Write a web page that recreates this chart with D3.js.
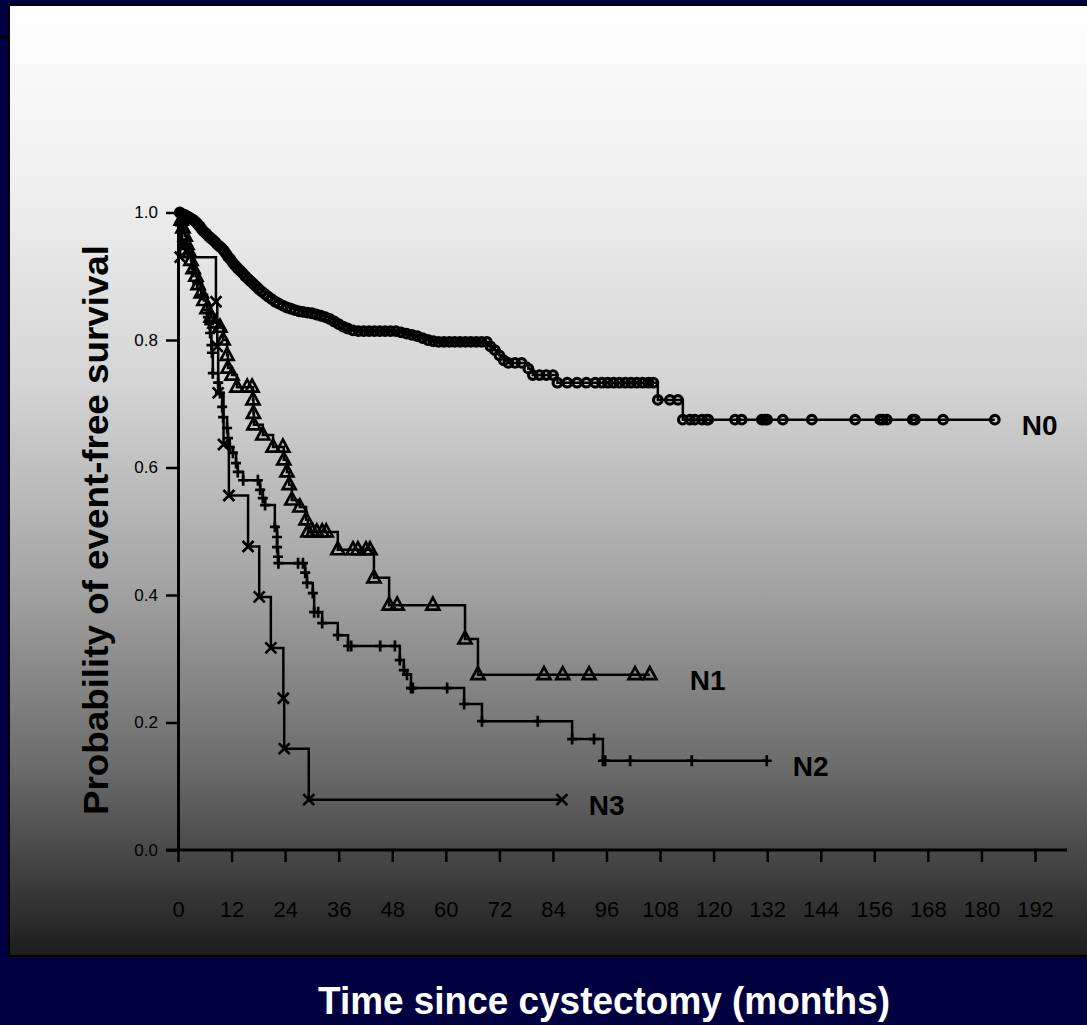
<!DOCTYPE html>
<html>
<head>
<meta charset="utf-8">
<script src="https://cdn.jsdelivr.net/npm/d3@7"></script>
<style>
  html, body { margin: 0; padding: 0; background: #000040; }
  svg { display: block; font-family: "Liberation Sans", Arial, sans-serif; }
</style>
</head>
<body>
<div id="graphic"></div>
<script>
// months, survival probability
const n0Points = [
  [0,1.0],[0.4,1.0],[0.8,0.998],[1.2,0.997],[1.6,0.996],[2.1,0.994],[2.6,0.992],[3.0,0.990],[3.5,0.988],
  [4.0,0.985],[4.4,0.982],[4.9,0.978],[5.3,0.974],[5.8,0.970],[6.3,0.967],[6.8,0.963],[7.3,0.960],
  [7.8,0.957],[8.3,0.954],[8.8,0.950],[9.3,0.947],[9.8,0.944],[10.3,0.940],[10.8,0.935],[11.3,0.930],
  [11.8,0.926],[12.3,0.921],[12.8,0.917],[13.3,0.913],[13.9,0.909],[14.5,0.905],[15.1,0.900],
  [15.7,0.896],[16.3,0.892],[16.9,0.888],[17.5,0.884],[18.1,0.880],[18.8,0.876],[19.5,0.872],
  [20.2,0.868],[21.0,0.864],[21.8,0.860],[22.6,0.857],[23.5,0.854],[24.4,0.851],[25.3,0.849],
  [26.2,0.847],[27.1,0.845],[28.0,0.844],[29.0,0.843],[30.0,0.842],[31.0,0.840],[32.0,0.838],
  [33.0,0.836],[34.0,0.833],[35.0,0.829],[36.0,0.825],[37.0,0.821],[38.0,0.818],[39.2,0.815],
  [40.4,0.814],[41.6,0.814],[42.8,0.814],[44.0,0.814],[45.2,0.814],[46.4,0.814],[47.6,0.814],
  [48.8,0.814],[50.0,0.812],[51.2,0.810],[52.4,0.808],[53.6,0.806],[54.8,0.803],[56.0,0.800],
  [57.2,0.798],[58.4,0.797],[59.6,0.797],[60.8,0.797],[62.0,0.797],[63.2,0.797],[64.4,0.797],
  [65.6,0.797],[66.8,0.797],[68.0,0.797],[69.2,0.797],[70.0,0.790],[71.0,0.784],[72.0,0.776],
  [73.0,0.768],[74.0,0.764],[75.5,0.764],[77.0,0.764],[78.5,0.755],[79.5,0.745],[81.0,0.745],
  [82.5,0.745],[84.0,0.745],[85.0,0.733],[87.2,0.733],[89.4,0.733],[91.5,0.733],[93.5,0.733],
  [95.0,0.733],[96.3,0.733],[97.6,0.733],[98.9,0.733],[100.2,0.733],[101.5,0.733],[102.8,0.733],
  [104.1,0.733],[105.4,0.733],[106.5,0.733],[107.5,0.706],[110.2,0.706],[112.0,0.706],
  [113.1,0.675],[114.7,0.675],[115.8,0.675],[117.4,0.675],[118.5,0.675],[118.8,0.675],
  [124.8,0.675],[126.3,0.675],[130.8,0.675],[131.5,0.675],[132.0,0.675],[135.5,0.675],
  [142.0,0.675],[151.7,0.675],[157.3,0.675],[157.9,0.675],[158.8,0.675],[164.6,0.675],
  [165.1,0.675],[171.4,0.675],[183.0,0.675]
]

const n1Points = [
  [0,1.0],[0.7,0.988],[1.1,0.976],[1.6,0.963],[2.0,0.950],[2.5,0.938],[2.9,0.925],[3.4,0.912],
  [4.0,0.900],[4.5,0.887],[5.2,0.874],[5.8,0.862],[6.5,0.849],[7.4,0.836],[8.3,0.827],[9.4,0.820],
  [10.1,0.800],[11.0,0.776],[11.2,0.756],[12.1,0.745],[13.2,0.726],[15.5,0.726],[16.6,0.726],
  [16.8,0.706],[16.9,0.685],[17.0,0.667],[19.0,0.651],[21.3,0.632],[23.5,0.632],[23.7,0.612],
  [24.4,0.593],[24.9,0.573],[25.5,0.549],[27.3,0.538],[28.7,0.518],[29.1,0.499],[30.2,0.499],
  [31.1,0.499],[32.3,0.499],[33.2,0.499],[35.8,0.471],[39.2,0.471],[40.3,0.471],[42.1,0.471],
  [43.0,0.471],[43.9,0.427],[47.3,0.384],[49.1,0.384],[57.1,0.384],[64.3,0.331],[67.2,0.275],
  [82.0,0.275],[86.2,0.275],[92.1,0.275],[102.4,0.275],[105.7,0.275]
]

const n2Points = [
  [0,1.0],[0.45,0.980],[0.9,0.957],[1.6,0.946],[2.2,0.936],[3.1,0.918],[3.4,0.907],[4.3,0.889],
  [5.4,0.871],[6.5,0.847],[6.7,0.836],[7.0,0.825],[7.2,0.811],[7.5,0.792],[7.6,0.780],[7.8,0.748],
  [9.0,0.733],[9.4,0.717],[9.9,0.695],[10.1,0.679],[11.0,0.662],[11.2,0.646],[11.6,0.632],
  [12.3,0.623],[13.0,0.607],[13.4,0.593],[14.6,0.580],[17.9,0.580],[18.4,0.565],[19.0,0.552],
  [19.5,0.541],[21.7,0.507],[22.2,0.491],[22.2,0.475],[22.4,0.460],[22.5,0.450],[26.9,0.450],
  [28.0,0.450],[28.5,0.435],[28.9,0.419],[30.2,0.403],[30.5,0.373],[31.4,0.373],[32.3,0.356],
  [35.8,0.337],[38.1,0.320],[38.8,0.320],[45.3,0.320],[48.6,0.320],[49.7,0.298],[50.6,0.282],
  [51.3,0.275],[52.2,0.254],[52.6,0.254],[60.3,0.254],[64.1,0.229],[68.1,0.202],[80.6,0.202],
  [88.3,0.174],[93.2,0.174],[95.2,0.140],[95.7,0.140],[101.3,0.140],[115.1,0.140],[131.9,0.140]
]

const n3Points = [
  [0,1.0],[0.5,0.93],[8.5,0.86],[8.8,0.79],[9.0,0.717],[10.2,0.636],[11.4,0.556],[15.7,0.476],
  [18.2,0.397],[20.8,0.317],[23.6,0.238],[23.8,0.159],[29.3,0.079],[86.0,0.079]
]

const groupNames = ["N0", "N1", "N2", "N3"]
const xTicks = [0, 12, 24, 36, 48, 60, 72, 84, 96, 108, 120, 132, 144, 156, 168, 180, 192]
const yTicks = [0.0, 0.2, 0.4, 0.6, 0.8, 1.0]
const xTitle = "Time since cystectomy (months)"
const yTitle = "Probability of event-free survival"

const W = 1087, H = 1025
const FONT = "'Liberation Sans', Arial, sans-serif"

let x = d3.scaleLinear()
    .domain([0, 192])
    .range([178, 1035]);

let y = d3.scaleLinear()
    .domain([0, 1])
    .range([850, 212.5]);

let svg = d3.select("#graphic").append("svg")
    .attr("width", W)
    .attr("height", H)

// background + grey panel
svg.append("rect")
    .attr("width", W).attr("height", H)
    .attr("fill", "#000040")

let grad = svg.append("defs").append("linearGradient")
    .attr("id", "panelGrad")
    .attr("x1", 0).attr("y1", 0).attr("x2", 0).attr("y2", 1)

const stops = [[0, "#ffffff"], [0.2, "#eeeeee"], [0.4, "#d4d4d4"], [0.6, "#a6a6a6"],
    [0.8, "#6c6c6c"], [0.9, "#454545"], [1, "#1c1c1c"]]
grad.selectAll("stop")
    .data(stops)
    .enter().append("stop")
    .attr("offset", d => d[0])
    .attr("stop-color", d => d[1])

svg.append("rect")
    .attr("x", 9).attr("y", 5)
    .attr("width", W + 20).attr("height", 951)
    .attr("fill", "url(#panelGrad)")
    .attr("stroke", "#000")
    .attr("stroke-width", 2)

svg.append("line")
    .attr("x1", 0).attr("x2", 9)
    .attr("y1", 37).attr("y2", 37)
    .attr("stroke", "#000").attr("stroke-width", 2)

// axes
let yAxis = d3.axisLeft(y)
    .tickValues(yTicks)
    .tickSize(12)
    .tickSizeOuter(0)
    .tickPadding(8)
    .tickFormat(d3.format(".1f"))

let gy = svg.append("g")
    .attr("transform", "translate(" + x(0) + ",0)")
    .call(yAxis)
gy.select(".domain").attr("stroke-width", 3)
gy.selectAll(".tick line").attr("stroke-width", 2.5)
gy.selectAll(".tick text")
    .attr("font-size", 17)
    .attr("font-family", FONT)
    .attr("fill", "#000")

let xAxis = d3.axisBottom(x)
    .tickValues(xTicks)
    .tickSize(12)
    .tickSizeOuter(0)
    .tickPadding(39)

let gx = svg.append("g")
    .attr("transform", "translate(0," + y(0) + ")")
    .call(xAxis)
gx.select(".domain").remove()
gx.selectAll(".tick line").attr("stroke-width", 2.5)
gx.selectAll(".tick text")
    .attr("font-size", 22)
    .attr("font-family", FONT)
    .attr("fill", "#000")

svg.append("line")
    .attr("x1", x(0) - 12).attr("x2", x(192) + 32)
    .attr("y1", y(0)).attr("y2", y(0))
    .attr("stroke", "#000").attr("stroke-width", 3)

// curves
const groups = [
    { name: groupNames[0], pts: n0Points, mark: "circle" },
    { name: groupNames[1], pts: n1Points, mark: "triangle" },
    { name: groupNames[2], pts: n2Points, mark: "plus" },
    { name: groupNames[3], pts: n3Points, mark: "cross" }
]

const markPaths = {
    circle: "M4.3,0A4.3,4.3 0 1,1 -4.3,0A4.3,4.3 0 1,1 4.3,0Z",
    triangle: "M0,-7.5L6.5,4.5L-6.5,4.5Z",
    plus: "M-5,0H5M0,-5.5V5.5",
    cross: "M-5.5,-5.5L5.5,5.5M-5.5,5.5L5.5,-5.5"
}

let line = d3.line()
    .x(d => x(d[0]))
    .y(d => y(d[1]))
    .curve(d3.curveStepAfter)

groups.forEach(function (g) {
    svg.append("path")
        .datum(g.pts)
        .attr("d", line)
        .attr("fill", "none")
        .attr("stroke", "#000")
        .attr("stroke-width", 2.5)

    svg.selectAll(null)
        .data(g.pts.slice(1))
        .enter().append("path")
        .attr("d", markPaths[g.mark])
        .attr("transform", d => "translate(" + x(d[0]) + "," + y(d[1]) + ")")
        .attr("fill", "none")
        .attr("stroke", "#000")
        .attr("stroke-width", g.mark === "circle" ? 3.2 : 2.7)
})

// labels at the curve ends
const labelOffset = { N0: 27, N1: 40, N2: 26, N3: 27 }
svg.selectAll(null)
    .data(groups)
    .enter().append("text")
    .attr("x", d => x(d.pts[d.pts.length - 1][0]) + labelOffset[d.name])
    .attr("y", d => y(d.pts[d.pts.length - 1][1]) + 15)
    .attr("font-size", 28)
    .attr("font-weight", "bold")
    .attr("font-family", FONT)
    .text(d => d.name)

// titles
svg.append("text")
    .attr("transform", "translate(108,530) rotate(-90)")
    .attr("text-anchor", "middle")
    .attr("font-size", 35)
    .attr("font-weight", "bold")
    .attr("font-family", FONT)
    .attr("textLength", 570)
    .attr("lengthAdjust", "spacingAndGlyphs")
    .text(yTitle)

svg.append("text")
    .attr("x", 604)
    .attr("y", 1014)
    .attr("text-anchor", "middle")
    .attr("font-size", 38)
    .attr("font-weight", "bold")
    .attr("font-family", FONT)
    .attr("fill", "#fff")
    .attr("textLength", 572)
    .attr("lengthAdjust", "spacingAndGlyphs")
    .text(xTitle)
</script>
</body>
</html>
